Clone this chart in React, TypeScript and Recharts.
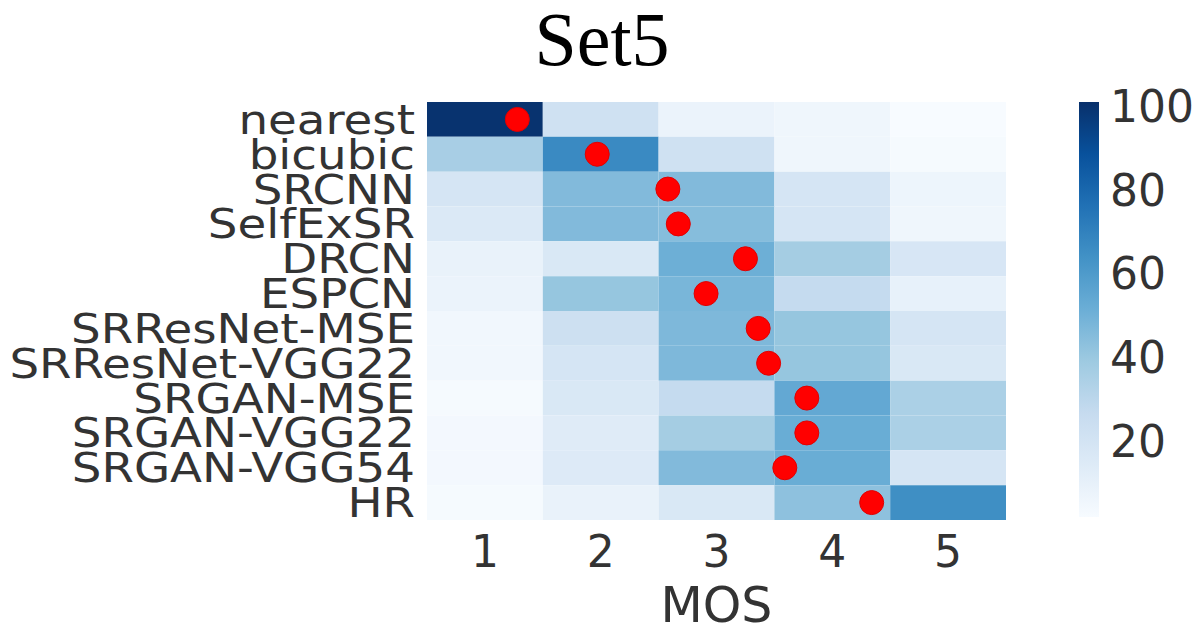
import { ComposedChart, XAxis, YAxis, Scatter, Bar, ReferenceArea } from "recharts";

const methods = [
  "nearest",
  "bicubic",
  "SRCNN",
  "SelfExSR",
  "DRCN",
  "ESPCN",
  "SRResNet-MSE",
  "SRResNet-VGG22",
  "SRGAN-MSE",
  "SRGAN-VGG22",
  "SRGAN-VGG54",
  "HR",
];

const mosScores = [1.28, 1.97, 2.58, 2.67, 3.25, 2.91, 3.36, 3.45, 3.78, 3.78, 3.59, 4.34];

// share of votes per MOS bin (1..5), one row per method
const votes = [
  [100, 22, 8, 6, 2],
  [36, 67, 22, 6, 3],
  [19, 46, 46, 19, 7],
  [16, 46, 45, 19, 6],
  [9, 17, 51, 37, 18],
  [8, 41, 48, 27, 10],
  [5, 23, 47, 41, 19],
  [5, 19, 47, 41, 17],
  [3, 17, 27, 54, 35],
  [4, 14, 37, 52, 35],
  [4, 15, 46, 52, 19],
  [3, 9, 17, 43, 65],
];

const mosTicks = [1, 2, 3, 4, 5];
const colorbarTicks = [20, 40, 60, 80, 100];
const vMin = 2;
const vMax = 101;
const colorbarRange = [{ name: "scale", range: [vMin, vMax] }];

// matplotlib "Blues"
const blues = ["#f7fbff", "#deebf7", "#c6dbef", "#9ecae1", "#6baed6", "#4292c6", "#2171b5", "#08519c", "#08306b"];

const hex = (h: string) => [1, 3, 5].map((i) => parseInt(h.slice(i, i + 2), 16));

function bluesColor(v: number) {
  const t = Math.min(1, Math.max(0, (v - vMin) / (vMax - vMin))) * (blues.length - 1);
  const i = Math.min(blues.length - 2, Math.floor(t));
  const f = t - i;
  const a = hex(blues[i]);
  const b = hex(blues[i + 1]);
  const c = a.map((x, k) => Math.round(x + (b[k] - x) * f));
  return `rgb(${c[0]},${c[1]},${c[2]})`;
}

const font = "'DejaVu Sans', sans-serif";
const ink = "#333333";

const dots = methods.map((m, i) => ({ x: mosScores[i], y: i, name: m }));

// the source figure is stretched sideways a little, so labels are widened
function MethodTick(props: any) {
  const { x, y, payload } = props;
  return (
    <text
      transform={`translate(${x},${y}) scale(1.14,1)`}
      textAnchor="end"
      dy="0.355em"
      fontSize={41}
      fontFamily={font}
      fill={ink}
    >
      {methods[payload.value]}
    </text>
  );
}

export default function App() {
  return (
    <div style={{ position: "absolute", left: 0, top: 0, width: 1201, height: 628, background: "#fff", overflow: "hidden" }}>
      <svg width={1201} height={100} style={{ position: "absolute", left: 0, top: 0 }}>
        <text x={602} y={65} textAnchor="middle" fontFamily="'Liberation Serif', 'Times New Roman', serif" fontSize={76} fill="#000">
          Set5
        </text>
      </svg>

      <div style={{ position: "absolute", left: 0, top: 0 }}>
        <ComposedChart width={1201} height={628} margin={{ top: 102, right: 195, bottom: 0, left: 0 }}>
          <XAxis
            type="number"
            dataKey="x"
            domain={[0.5, 5.5]}
            ticks={mosTicks}
            height={108}
            axisLine={false}
            tickLine={false}
            tickSize={0}
            tickMargin={16}
            tick={{ fontSize: 44, fill: ink, fontFamily: font }}
            label={{ value: "MOS", position: "insideBottom", offset: 6, fontSize: 49, fill: ink, fontFamily: font }}
          />
          <YAxis
            type="number"
            dataKey="y"
            domain={[-0.5, 11.5]}
            ticks={methods.map((_, i) => i)}
            reversed
            width={427}
            interval={0}
            axisLine={false}
            tickLine={false}
            tickSize={0}
            tickMargin={12}
            tick={<MethodTick />}
          />
          {votes.map((row, r) =>
            row.map((v, c) => (
              <ReferenceArea
                key={`${r}-${c}`}
                x1={c + 0.5}
                x2={c + 1.5}
                y1={r - 0.5}
                y2={r + 0.5}
                fill={bluesColor(v)}
                fillOpacity={1}
                stroke="none"
                ifOverflow="visible"
              />
            ))
          )}
          <Scatter
            data={dots}
            isAnimationActive={false}
            shape={(p: any) => <circle cx={p.cx} cy={p.cy} r={12} fill="#ff0000" stroke="#e00000" strokeWidth={1} />}
          />
        </ComposedChart>
      </div>

      <div style={{ position: "absolute", left: 1079, top: 72 }}>
        <ComposedChart
          width={122}
          height={475}
          data={colorbarRange}
          margin={{ top: 30, right: 0, bottom: 30, left: 0 }}
          barCategoryGap={0}
        >
          <defs>
            <linearGradient id="bluesBar" x1="0" y1="1" x2="0" y2="0">
              {blues.map((c, i) => (
                <stop key={c} offset={`${(i / (blues.length - 1)) * 100}%`} stopColor={c} />
              ))}
            </linearGradient>
          </defs>
          <XAxis type="category" dataKey="name" hide />
          <YAxis
            type="number"
            orientation="right"
            domain={[vMin, vMax]}
            ticks={colorbarTicks}
            width={102}
            interval={0}
            axisLine={false}
            tickLine={false}
            tickSize={0}
            tickMargin={11}
            tick={{ fontSize: 44, fill: ink, fontFamily: font, textAnchor: "start" }}
          />
          <Bar dataKey="range" fill="url(#bluesBar)" isAnimationActive={false} />
        </ComposedChart>
      </div>
    </div>
  );
}
